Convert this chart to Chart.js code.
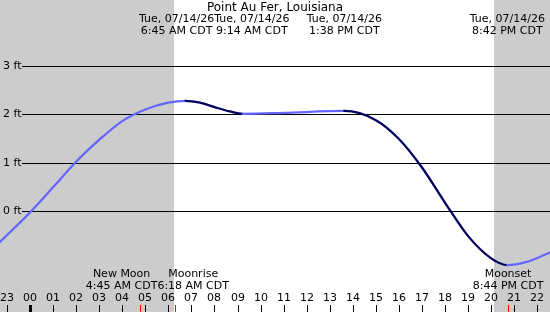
<!DOCTYPE html>
<html>
<head>
<meta charset="utf-8">
<script src="https://cdn.jsdelivr.net/npm/chart.js@4"></script>
<style>
  html, body { margin: 0; padding: 0; background: #fff; }
  canvas { display: block; }
</style>
</head>
<body>
<canvas id="tide" width="550" height="312"></canvas>
<script>
// hours since midnight, Tue 07/14/26 (negative = previous evening)
const tideHours = [-1.3, 0, 1, 2, 3, 4, 5, 6, 6.75, 7.37, 8, 8.67, 9.23, 11, 13.63, 15, 16, 17, 18, 19, 20, 20.7, 21.5, 22.55];
const tideFeet  = [-0.64, -0.03, 0.49, 1.02, 1.47, 1.86, 2.1, 2.24, 2.28, 2.24, 2.15, 2.06, 2.01, 2.03, 2.07, 1.88, 1.49, 0.9, 0.17, -0.52, -0.98, -1.12, -1.06, -0.86];

const hourTicks = [-1, 0, 1, 2, 3, 4, 5, 6, 7, 8, 9, 10, 11, 12, 13, 14, 15, 16, 17, 18, 19, 20, 21, 22];
const hourLabels = ['23', '00', '01', '02', '03', '04', '05', '06', '07', '08', '09', '10', '11', '12', '13', '14', '15', '16', '17', '18', '19', '20', '21', '22'];
const feetTicks = [0, 1, 2, 3];
const feetLabels = ['0 ft', '1 ft', '2 ft', '3 ft'];

const sunrise = 6.24;
const sunset = 20.12;

const tideEventHours = [6.75, 9.23, 13.63, 20.7];
const tideEventLines = [
  ['Tue, 07/14/26', '6:45 AM CDT'],
  ['Tue, 07/14/26', '9:14 AM CDT'],
  ['Tue, 07/14/26', '1:38 PM CDT'],
  ['Tue, 07/14/26', '8:42 PM CDT']
];
const moonEventHours = [4.75, 6.3, 20.73];
const moonEventLines = [
  ['New Moon', '4:45 AM CDT'],
  ['Moonrise', '6:18 AM CDT'],
  ['Moonset', '8:44 PM CDT']
];

const title = 'Point Au Fer, Louisiana';
const FONT = '11px "DejaVu Sans", sans-serif';
const RISING = '#6666ff';
const FALLING = '#000060';

// spread overlapping centred labels apart
function placeLabels(ctx, xs, lines, maxX) {
  const boxes = xs.map((x, i) => {
    const w = Math.max(...lines[i].map(t => ctx.measureText(t).width));
    return { c: x, w: w };
  });
  for (let i = 0; i < boxes.length - 1; i++) {
    const a = boxes[i], b = boxes[i + 1];
    const overlap = (a.c + a.w / 2) - (b.c - b.w / 2);
    if (overlap > 0) {
      a.c -= overlap / 2;
      b.c += overlap / 2;
    }
  }
  boxes.forEach(b => {
    if (b.c + b.w / 2 > maxX) b.c = maxX - b.w / 2;
    if (b.c - b.w / 2 < 0) b.c = b.w / 2;
  });
  return boxes;
}

const backdrop = {
  id: 'backdrop',
  beforeDatasetsDraw(chart) {
    const c = chart.ctx;
    const xs = chart.scales.x, ys = chart.scales.y;
    const W = chart.width, H = chart.height;
    c.save();
    c.fillStyle = '#ffffff';
    c.fillRect(0, 0, W, H);
    c.fillStyle = '#cccccc';
    c.fillRect(0, 0, Math.round(xs.getPixelForValue(sunrise)), H);
    const s = Math.round(xs.getPixelForValue(sunset));
    c.fillRect(s, 0, W - s, H);

    // horizontal grid + labels
    c.font = FONT;
    c.fillStyle = '#000';
    c.textBaseline = 'middle';
    c.textAlign = 'left';
    c.strokeStyle = '#000';
    c.lineWidth = 1;
    feetTicks.forEach((v, i) => {
      const y = Math.round(ys.getPixelForValue(v)) + 0.5;
      c.beginPath();
      c.moveTo(22, y);
      c.lineTo(W, y);
      c.stroke();
      c.fillText(feetLabels[i], 3, y);
    });
    c.restore();
  },
  afterDatasetsDraw(chart) {
    const c = chart.ctx;
    const xs = chart.scales.x;
    const W = chart.width;
    c.save();
    c.fillStyle = '#000';

    // title
    c.font = '12px "DejaVu Sans", sans-serif';
    c.textAlign = 'center';
    c.textBaseline = 'middle';
    c.fillText(title, W / 2, 8);

    // tide event labels along the top
    c.font = FONT;
    const top = placeLabels(c, tideEventHours.map(h => xs.getPixelForValue(h)), tideEventLines, W);
    top.forEach((b, i) => {
      c.fillText(tideEventLines[i][0], b.c, 19);
      c.fillText(tideEventLines[i][1], b.c, 31);
    });

    // moon events along the bottom
    const bot = placeLabels(c, moonEventHours.map(h => xs.getPixelForValue(h)), moonEventLines, W);
    bot.forEach((b, i) => {
      c.fillText(moonEventLines[i][0], b.c, 274);
      c.fillText(moonEventLines[i][1], b.c, 286);
    });

    // hour labels + ticks
    hourTicks.forEach((h, i) => {
      const x = Math.round(xs.getPixelForValue(h));
      c.fillStyle = '#000';
      c.fillText(hourLabels[i], x, 298);
      if (h === 0) c.fillRect(x - 1, 305, 3, 7);
      else c.fillRect(x, 305, 1, 7);
    });
    c.fillStyle = '#ff0000';
    moonEventHours.forEach(h => {
      const x = Math.round(xs.getPixelForValue(h));
      c.fillRect(x, 305, 1, 7);
    });
    c.restore();
  }
};

new Chart(document.getElementById('tide'), {
  type: 'line',
  data: {
    datasets: [{
      data: tideHours.map((h, i) => ({ x: h, y: tideFeet[i] })),
      borderWidth: 2.3,
      borderCapStyle: 'round',
      borderJoinStyle: 'round',
      pointRadius: 0,
      cubicInterpolationMode: 'monotone',
      borderColor: RISING,
      segment: {
        borderColor: ctx => ctx.p1.parsed.y >= ctx.p0.parsed.y ? RISING : FALLING
      }
    }]
  },
  options: {
    responsive: false,
    animation: false,
    layout: { padding: 0 },
    scales: {
      x: { type: 'linear', min: -1.3, max: 22.55, display: false },
      y: { min: -2.09, max: 4.366, display: false }
    },
    plugins: {
      legend: { display: false },
      tooltip: { enabled: false }
    }
  },
  plugins: [backdrop]
});
</script>
</body>
</html>
